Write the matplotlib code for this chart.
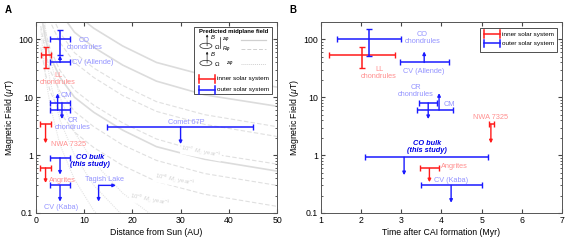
import matplotlib
matplotlib.use("Agg")
import matplotlib.pyplot as plt
from matplotlib.patches import Rectangle, Ellipse

plt.rcParams["font.family"] = ["Liberation Sans", "DejaVu Sans"]
plt.rcParams["mathtext.fontset"] = "custom"
plt.rcParams["mathtext.rm"] = "Liberation Sans"
plt.rcParams["mathtext.it"] = "Liberation Sans:italic"

RED = "#ff1a1a"
BLUE = "#1a1aff"
RED_TXT = "#ff8f8f"
BLUE_TXT = "#9494ff"
BULK_TXT = "#0000e6"

# ---- panel A: distance from Sun (AU) ----
A_IN_R = [2.0, 2.0, 2.0]
A_IN_RLO = [1.0, 0.8, 0.8]
A_IN_RHI = [3.1, 3.1, 3.1]
A_IN_B = [54, 3.4, 0.6]
A_IN_BLO = [32, 1.6, 0.33]
A_IN_BHI = [75, None, None]
A_IN_KIND = ["both", "upper", "upper"]

A_OUT_R = [5.0, 5.0, 4.5, 5.4, 5.0, 5.0, 13.0, 30.0]
A_OUT_RLO = [3.0, 3.0, 3.0, 3.0, 3.0, 3.0, 13.0, 14.8]
A_OUT_RHI = [7.0, 7.0, 7.0, 7.0, 7.1, 7.0, 16.6, 45.0]
A_OUT_B = [100, 40, 6.0, 8.0, 0.9, 0.3, 0.3, 3.1]
A_OUT_BLO = [53, None, None, 4.2, 0.46, 0.157, 0.157, 1.55]
A_OUT_BHI = [145, 53, 11.7, None, None, None, None, None]
A_OUT_KIND = ["both", "lower", "lower", "upper", "upper", "upper", "upper", "upper"]
A_OUT_RARROW = [False, False, False, False, False, False, True, False]

A_LABELS = ["CO\nchondrules", "CV (Allende)", "LL\nchondrules", "CM", "CR\nchondrules",
            "NWA 7325", "Angrites", "Tagish Lake", "CV (Kaba)", "Comet 67P"]
A_LABEL_X = [10.1, 7.45, 4.6, 5.2, 7.6, 3.1, 2.75, 14.2, 5.2, 31.2]
A_LABEL_Y = [85, 40, 21, 10.7, 3.4, 1.55, 0.37, 0.386, 0.125, 3.6]
A_LABEL_HA = ["center", "left", "center", "left", "center", "left", "left", "center", "center", "center"]
A_LABEL_C = ["b", "b", "r", "b", "b", "r", "r", "b", "b", "b"]
A_BULK_XY = (11.3, 0.79)

# model curves
CURVE_R = [1, 2, 3, 5, 8, 12, 18, 25, 35, 50]
SOLID_B = [
    [8400, 2850, 1425, 630, 285, 156, 77, 40, 24, 15],
    [3900, 1330, 665, 294, 133, 73, 36, 19, 11, 7],
    [300, 100, 50, 22, 10, 5.5, 2.7, 1.4, 0.85, 0.53],
]
DASHED_B = [
    [1700, 590, 295, 130, 59, 32, 16, 8.4, 5.0, 3.1],
    [1180, 400, 200, 88, 40, 22, 10.7, 5.7, 3.4, 2.1],
    [390, 133, 67, 29, 13.3, 7.3, 3.6, 1.9, 1.1, 0.7],
    [170, 57, 28.5, 12.6, 5.7, 3.1, 1.5, 0.81, 0.48, 0.3],
    [73, 25, 12.4, 5.5, 2.5, 1.35, 0.66, 0.35, 0.21, 0.13],
]
DOTTED_B = [
    [1000, 150, 45, 10, 2.5, 0.75, 0.22, 0.08, 0.03, 0.01],
    [400, 60, 18, 4, 1.0, 0.3, 0.09, 0.03, 0.01, 0.005],
    [150, 22, 7, 1.5, 0.38, 0.11, 0.035, 0.01, 0.005, 0.002],
]
RATE_LABELS = [r"10$^{-7}$ $M_{\odot}$ year$^{-1}$", r"10$^{-8}$ $M_{\odot}$ year$^{-1}$",
               r"10$^{-9}$ $M_{\odot}$ year$^{-1}$"]
RATE_X = [34.3, 28.8, 23.6]
RATE_Y = [1.13, 0.37, 0.168]

# ---- panel B: time after CAI formation (Myr) ----
B_IN_T = [2.03, 5.23, 3.7]
B_IN_TLO = [1.21, 5.19, 3.46]
B_IN_THI = [2.84, 5.3, 3.94]
B_IN_B = [53, 3.4, 0.59]
B_IN_BLO = [32, 1.6, 0.34]
B_IN_BHI = [73, None, None]
B_IN_KIND = ["both", "upper", "upper"]

B_OUT_T = [2.19, 3.57, 3.94, 3.67, 3.07, 4.24]
B_OUT_TLO = [1.39, 2.98, 3.40, 3.45, 2.1, 3.49]
B_OUT_THI = [2.99, 4.19, 4.29, 3.90, 5.17, 5.0]
B_OUT_B = [100, 40, 6.0, 8.0, 0.92, 0.3]
B_OUT_BLO = [52, None, None, 4.2, 0.45, 0.15]
B_OUT_BHI = [150, 62, 11.8, None, None, None]
B_OUT_KIND = ["both", "lower", "lower", "upper", "upper", "upper"]

B_LABELS = ["CO\nchondrules", "LL\nchondrules", "CV (Allende)", "CR\nchondrules", "CM",
            "NWA 7325", "Angrites", "CV (Kaba)"]
B_LABEL_X = [3.53, 2.45, 3.56, 3.36, 4.06, 5.22, 4.0, 4.25]
B_LABEL_Y = [108, 26.5, 28, 12.7, 7.6, 4.46, 0.63, 0.366]
B_LABEL_HA = ["center", "center", "center", "center", "left", "center", "left", "center"]
B_LABEL_C = ["b", "r", "b", "b", "b", "r", "r", "b"]
B_BULK_XY = (3.64, 1.4)


def arrow(ax, x0, y0, x1, y1, color):
    ax.annotate("", xy=(x1, y1), xytext=(x0, y0),
                arrowprops=dict(arrowstyle="-|>", color=color, lw=1.0, shrinkA=0, shrinkB=0,
                                mutation_scale=4.5))


def draw_points(ax, x, xlo, xhi, b, blo, bhi, kind, color, rarrow=None):
    for i in range(len(x)):
        if rarrow is not None and rarrow[i]:
            arrow(ax, x[i], b[i], xhi[i], b[i], color)
        else:
            ax.errorbar([x[i]], [b[i]], xerr=[[x[i] - xlo[i]], [xhi[i] - x[i]]], fmt="none",
                        ecolor=color, elinewidth=1.1, capsize=2.2, capthick=1.0)
        if kind[i] == "both":
            ax.errorbar([x[i]], [b[i]], yerr=[[b[i] - blo[i]], [bhi[i] - b[i]]], fmt="none",
                        ecolor=color, elinewidth=1.1, capsize=2.2, capthick=1.0)
        elif kind[i] == "upper":
            arrow(ax, x[i], b[i], x[i], blo[i], color)
        else:
            arrow(ax, x[i], b[i], x[i], bhi[i], color)


def put_labels(ax, labels, xs, ys, has, cols, bulk_xy):
    for lab, x, y, ha, c in zip(labels, xs, ys, has, cols):
        ax.text(x, y, lab, ha=ha, va="center", fontsize=5.3, linespacing=1.0,
                color=BLUE_TXT if c == "b" else RED_TXT)
    ax.text(bulk_xy[0], bulk_xy[1], "CO bulk\n(this study)", ha="center", va="center",
            fontsize=5.3, linespacing=1.05, color=BULK_TXT, fontweight="bold", style="italic")


def style_axes(ax):
    ax.set_yscale("log")
    ax.set_ylim(0.1, 200)
    ax.tick_params(which="both", direction="in", top=True, right=True, labelsize=6.3,
                   color="#444444", pad=2)
    ax.tick_params(which="major", length=3)
    ax.tick_params(which="minor", length=1.6)
    ax.set_yticks([0.1, 1, 10, 100])
    ax.set_yticklabels(["0.1", "1", "10", "100"])
    for s in ax.spines.values():
        s.set_color("#555555")
        s.set_linewidth(0.7)
    ax.set_ylabel(r"Magnetic Field ($\mu$T)", fontsize=6.3, labelpad=2)


def legend_bars(ax, y_red, y_blue, x0, x1, xt):
    kw = dict(lw=1.1, transform=ax.transAxes, zorder=6)
    for yy, col, txt in ((y_red, RED, "inner solar system"), (y_blue, BLUE, "outer solar system")):
        ax.plot([x0, x1], [yy, yy], color=col, **kw)
        ax.plot([x0, x0], [yy - 0.02, yy + 0.02], color=col, **kw)
        ax.plot([x1, x1], [yy - 0.02, yy + 0.02], color=col, **kw)
        ax.text(xt, yy, txt, fontsize=4.6, va="center", ha="left", transform=ax.transAxes,
                zorder=6)


def panel_letter(ax, letter):
    ax.text(-0.116, 1.063, letter, fontsize=7, fontweight="bold", ha="center", va="center",
            transform=ax.transAxes)


fig = plt.figure(figsize=(5.7, 2.42), dpi=100)
axA = fig.add_axes([0.063, 0.12, 0.423, 0.789])
axB = fig.add_axes([0.563, 0.12, 0.423, 0.789])

# ---- panel A ----
for vals in SOLID_B:
    axA.plot(CURVE_R, vals, color="#dcdcdc", lw=1.2, zorder=1)
for vals in DASHED_B:
    axA.plot(CURVE_R, vals, color="#e0e0e0", lw=0.8, ls=(0, (4, 2)), zorder=1)
for vals in DOTTED_B:
    axA.plot(CURVE_R, vals, color="#e4e4e4", lw=0.8, ls=(0, (1, 1)), zorder=1)
for lab, x, y in zip(RATE_LABELS, RATE_X, RATE_Y):
    axA.text(x, y, lab, fontsize=4.2, color="#d2d2d2", ha="center", va="center", rotation=-11,
             bbox=dict(facecolor="white", edgecolor="none", pad=0.3), zorder=2)

draw_points(axA, A_IN_R, A_IN_RLO, A_IN_RHI, A_IN_B, A_IN_BLO, A_IN_BHI, A_IN_KIND, RED)
draw_points(axA, A_OUT_R, A_OUT_RLO, A_OUT_RHI, A_OUT_B, A_OUT_BLO, A_OUT_BHI, A_OUT_KIND, BLUE,
            A_OUT_RARROW)
put_labels(axA, A_LABELS, A_LABEL_X, A_LABEL_Y, A_LABEL_HA, A_LABEL_C, A_BULK_XY)
axA.set_xlim(0, 50)
axA.set_xticks([0, 10, 20, 30, 40, 50])
axA.set_xlabel("Distance from Sun (AU)", fontsize=6.3, labelpad=2)
style_axes(axA)

# legend box A
T = axA.transAxes
axA.add_patch(Rectangle((0.656, 0.623), 0.323, 0.351, transform=T, facecolor="white",
                        edgecolor="#333333", lw=0.6, zorder=5))
axA.text(0.818, 0.952, "Predicted midplane field", fontsize=4.3, fontweight="bold", ha="center",
         va="center", transform=T, zorder=6)
for cy in (0.875, 0.785):
    axA.add_patch(Ellipse((0.705, cy), 0.05, 0.028, transform=T, facecolor="none",
                          edgecolor="#222222", lw=0.5, zorder=6))
    axA.annotate("", xy=(0.71, cy + 0.06), xytext=(0.71, cy), xycoords="axes fraction",
                 arrowprops=dict(arrowstyle="-|>", lw=0.5, color="#222222", mutation_scale=3,
                                 shrinkA=0, shrinkB=0), zorder=6)
    axA.text(0.722, cy + 0.045, r"$B$", fontsize=4.3, transform=T, va="center", zorder=6)
    axA.text(0.74, cy - 0.005, r"$\Omega$", fontsize=4.3, transform=T, va="center", zorder=6)
axA.plot([0.762, 0.762], [0.862, 0.92], color="#222222", lw=0.5, transform=T, zorder=6)
axA.text(0.77, 0.912, r"$z\varphi$", fontsize=3.8, transform=T, va="center", zorder=6)
axA.text(0.77, 0.862, r"$R\varphi$", fontsize=3.8, transform=T, va="center", zorder=6)
axA.text(0.79, 0.785, r"$z\varphi$", fontsize=3.8, transform=T, va="center", zorder=6)
axA.plot([0.851, 0.954], [0.906, 0.906], color="#d0d0d0", lw=0.9, transform=T, zorder=6)
axA.plot([0.851, 0.954], [0.859, 0.859], color="#d0d0d0", lw=0.7, ls=(0, (4, 2)),
         transform=T, zorder=6)
axA.plot([0.851, 0.954], [0.78, 0.78], color="#d0d0d0", lw=0.7, ls=(0, (1, 1)),
         transform=T, zorder=6)
legend_bars(axA, 0.702, 0.644, 0.676, 0.743, 0.752)
panel_letter(axA, "A")

# ---- panel B ----
draw_points(axB, B_IN_T, B_IN_TLO, B_IN_THI, B_IN_B, B_IN_BLO, B_IN_BHI, B_IN_KIND, RED)
draw_points(axB, B_OUT_T, B_OUT_TLO, B_OUT_THI, B_OUT_B, B_OUT_BLO, B_OUT_BHI, B_OUT_KIND, BLUE)
put_labels(axB, B_LABELS, B_LABEL_X, B_LABEL_Y, B_LABEL_HA, B_LABEL_C, B_BULK_XY)
axB.set_xlim(1, 7)
axB.set_xticks([1, 2, 3, 4, 5, 6, 7])
axB.set_xlabel("Time after CAI formation (Myr)", fontsize=6.3, labelpad=2)
style_axes(axB)
axB.add_patch(Rectangle((0.66, 0.845), 0.319, 0.125, transform=axB.transAxes, facecolor="white",
                        edgecolor="#333333", lw=0.6, zorder=5))
legend_bars(axB, 0.936, 0.888, 0.676, 0.743, 0.75)
panel_letter(axB, "B")

fig.savefig("out.png", dpi=100)
